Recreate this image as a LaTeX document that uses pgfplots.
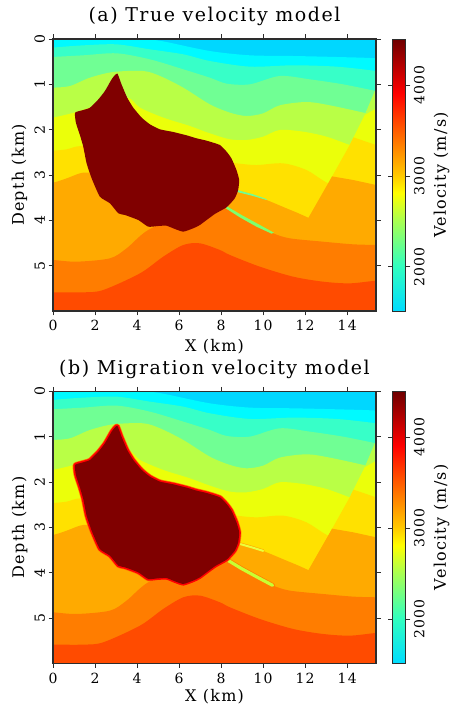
\documentclass[border=0pt]{standalone}
\usepackage{fontspec}
\setmainfont[LetterSpace=8]{DejaVu Serif}
\usepackage{pgfplots}
\pgfplotsset{compat=1.18}
\definecolor{c0}{RGB}{0,215,255}
\definecolor{c1}{RGB}{0,250,255}
\definecolor{c2}{RGB}{55,255,200}
\definecolor{c3}{RGB}{112,255,148}
\definecolor{c4}{RGB}{185,255,70}
\definecolor{c5}{RGB}{235,255,10}
\definecolor{c6}{RGB}{255,225,0}
\definecolor{c7}{RGB}{255,170,0}
\definecolor{c8}{RGB}{255,125,0}
\definecolor{c9}{RGB}{255,75,0}
\definecolor{salt}{RGB}{128,0,0}
\definecolor{axc}{RGB}{45,45,45}
\definecolor{sl}{RGB}{200,255,50}
\definecolor{su}{RGB}{235,255,60}
\definecolor{sa}{RGB}{125,255,110}
\newcommand{\saltcoords}{(3.07,0.765)(3.26,1.0)(3.53,1.294)(3.82,1.515)(4.22,1.735)(4.61,1.882)(5.09,1.993)(5.72,2.051)(6.36,2.125)(6.83,2.191)(7.31,2.243)(7.94,2.338)(8.26,2.485)(8.49,2.632)(8.73,2.89)(8.86,3.11)(8.81,3.331)(8.65,3.515)(8.26,3.713)(7.70,3.86)(6.99,4.103)(6.67,4.176)(6.20,4.25)(5.80,4.191)(5.40,4.118)(5.01,4.125)(4.53,4.14)(4.06,3.993)(3.42,3.882)(3.11,3.846)(2.71,3.625)(2.23,3.478)(1.84,3.074)(1.60,2.743)(1.44,2.375)(1.28,2.118)(1.09,1.846)(1.05,1.625)(1.44,1.566)(1.76,1.515)(2.16,1.331)(2.47,1.147)(2.79,0.89)(2.95,0.794)}
\newcommand{\lowerstreak}{(8.26,3.684)(8.97,3.882)(9.76,4.081)(10.51,4.272)(10.4,4.294)(9.68,4.14)(8.89,3.934)(8.22,3.735)}
\newcommand{\upperstreak}{(8.76,3.331)(9.52,3.426)(10.16,3.53)(10.16,3.55)(9.52,3.463)(8.76,3.375)}
\newcommand{\lay}[2]{\addplot[fill=#1,draw=none,smooth cycle,tension=0.5] coordinates {#2 (17.5,8)(-2.5,8)};}
\newcommand{\layers}{%
\addplot[fill=c0,draw=none] coordinates {(-1,-1)(16.5,-1)(16.5,7)(-1,7)} -- cycle;
\lay{c1}{(-1,-1)(1,-0.6)(3.5,-0.15)(4.61,0)(5.40,0.066)(7.46,0.265)(9.37,0.36)(11.43,0.375)(13.49,0.397)(15.37,0.426)(16.5,0.5)}
\lay{c2}{(-1,0.25)(0,0.19)(1.44,0.14)(3.03,0.118)(4.61,0.228)(6.20,0.338)(7.46,0.485)(9.37,0.61)(11.43,0.58)(13.49,0.61)(15.37,0.706)(16.5,0.8)}
\lay{c3}{(-1,0.43)(0,0.397)(1.44,0.36)(3.03,0.316)(4.61,0.449)(6.20,0.669)(7.46,0.853)(8.26,0.985)(9.37,1.0)(10.79,0.816)(12.22,0.89)(13.80,1.0)(15.37,1.147)(16.5,1.25)}
\lay{c4}{(-1,1.1)(0,1.074)(0.81,1.037)(1.76,0.853)(2.87,0.728)(4.29,0.706)(5.09,0.816)(6.20,1.074)(7.46,1.441)(8.42,1.625)(9.21,1.699)(10.0,1.64)(10.79,1.463)(12.06,1.39)(13.17,1.463)(14.91,1.64)(15.37,1.713)(16.5,1.85)}
\lay{c5}{(-1,1.82)(0,1.735)(1.05,1.618)(2.2,1.45)(3.53,1.294)(4.14,1.515)(5.25,1.735)(6.51,1.919)(7.46,2.081)(8.42,2.213)(9.21,2.228)(10.0,2.154)(10.79,2.007)(11.90,2.044)(13.01,2.154)(14.12,2.338)(15.37,2.52)(16.5,2.7)}
\lay{c6}{(-1,2.48)(0,2.463)(0.65,2.434)(1.36,2.36)(3,2.43)(5,2.55)(7,2.65)(8.73,2.743)(9.68,2.78)(10.95,2.743)(12.06,2.89)(13.09,3.184)(15.37,3.70)(16.5,4)}
\lay{c7}{(-1,3.25)(0,3.169)(0.65,3.074)(1.28,2.963)(1.68,2.949)(3,3.0)(5,3.15)(7,3.25)(8.81,3.346)(9.84,3.493)(11.11,3.735)(12.14,3.941)(15.37,4.65)(16.5,5)}
\addplot[fill=c4,draw=none] coordinates {(15.37,1.085)(14.83,1.676)(15.0,1.9)(15.5,1.9)(15.5,1.085)} -- cycle;
\addplot[fill=c5,draw=none] coordinates {(14.83,1.676)(15.5,1.5)(15.5,2.6)(14.3,2.6)(14.12,2.338)} -- cycle;
\addplot[fill=c6,draw=none] coordinates {(14.30,2.17)(15.37,2.338)(15.5,2.34)(15.5,3.4)(13.6,3.4)(13.2,3.1)(14.12,2.338)} -- cycle;
\addplot[fill=c7,draw=none] coordinates {(13.28,3.03)(14.28,3.11)(15.37,3.22)(15.5,3.23)(15.5,5)(12.0,5)(12.14,3.956)} -- cycle;
\lay{c8}{(-1,4.85)(0,4.875)(1.13,4.912)(2.71,4.838)(3.50,4.618)(4.53,4.213)(6.35,3.85)(8.26,3.713)(8.89,3.919)(9.68,4.103)(10.48,4.287)(11.27,4.397)(12.85,4.471)(14.28,4.529)(15.37,4.544)(16.5,4.56)}
\lay{c9}{(-1,5.59)(0,5.588)(1.44,5.588)(2.39,5.537)(4.14,5.169)(5.25,4.80)(6.20,4.544)(6.99,4.507)(7.94,4.654)(8.42,4.765)(9.84,5.022)(11.43,5.243)(12.85,5.353)(14.12,5.39)(15.37,5.331)(16.5,5.3)}
}
\pgfplotsset{
  velaxis/.style={
    anchor=south west, scale only axis, width=323pt, height=272pt,
    xmin=0, xmax=15.37, ymin=0, ymax=6, y dir=reverse,
    axis on top, axis line style={axc,line width=1.2pt},
    tick align=outside, major tick length=4.5pt, tick style={axc,line width=0.8pt},
    xtick={0,2,...,14}, ytick={0,1,...,5},
    /pgf/number format/assume math mode=true,
    tick label style={font=\fontsize{14}{14}\selectfont},
    label style={font=\fontsize{16}{16}\selectfont},
    x tick label style={yshift=-1.5pt},
    yticklabel style={rotate=90,anchor=south,yshift=0pt,xshift=0pt},
    xlabel={X (km)}, ylabel={Depth (km)},
    xlabel style={at={(0.5,0)},anchor=base,yshift=-41pt},
    ylabel style={at={(0,0.5)},anchor=base,rotate=0,yshift=29pt},
    title style={font=\fontsize{19}{19}\selectfont,at={(0.5,1)},anchor=base,yshift=11pt},
    colormap={vel}{rgb255(0)=(0,220,255) rgb255(5)=(50,255,190) rgb255(10)=(170,255,80) rgb255(13)=(255,255,0) rgb255(15)=(255,200,0) rgb255(20)=(255,90,0) rgb255(24)=(255,0,0) rgb255(30)=(110,0,0)},
    point meta min=1513, point meta max=4506,
    colorbar right,
    colorbar shift/.style={xshift=12pt},
    colorbar style={
      width=13pt, ytick={2000,3000,4000},
      axis line style={axc,line width=0.9pt},
      major tick length=4.5pt, tick align=outside, tick style={axc,line width=0.5pt},
      /pgf/number format/assume math mode=true,
      /pgf/number format/1000 sep={},
      yticklabel style={rotate=90,anchor=north,xshift=0pt,yshift=0pt},
      ylabel={Velocity (m/s)},
      ylabel style={font=\fontsize{16}{16}\selectfont,at={(1,0.5)},anchor=base,rotate=0,yshift=-40pt},
    },
  }
}
\begin{document}
\begin{tikzpicture}[x=1pt,y=1pt]
\path[use as bounding box] (0,0) rectangle (450,706);
\begin{axis}[velaxis,at={(53pt,395pt)},title={(a) True velocity model}]
\layers
\addplot[fill=sa,draw=none] coordinates {\lowerstreak} -- cycle;
\addplot[fill=c3,draw=none] coordinates {\upperstreak} -- cycle;
\addplot[fill=salt,draw=none,smooth cycle,tension=0.3] coordinates {\saltcoords};
\end{axis}
\begin{axis}[velaxis,at={(53pt,42.7pt)},title={(b) Migration velocity model},xlabel style={yshift=2.5pt}]
\layers
\addplot[draw=c8,line width=4.6pt,line cap=round,no marks] coordinates {(8.26,3.71)(8.97,3.91)(9.76,4.11)(10.45,4.28)};
\addplot[draw=sl,line width=3.2pt,line cap=round,no marks] coordinates {(8.26,3.71)(8.97,3.91)(9.76,4.11)(10.45,4.28)};
\addplot[draw=c7,line width=3.2pt,line cap=round,no marks] coordinates {(8.76,3.35)(9.52,3.45)(10.0,3.52)};
\addplot[draw=su,line width=2pt,line cap=round,no marks] coordinates {(8.76,3.35)(9.52,3.45)(10.0,3.52)};
\addplot[draw=c8,line width=4.6pt,line join=round,smooth cycle,tension=0.3,no marks] coordinates {\saltcoords};
\addplot[draw=red,line width=3.2pt,line join=round,smooth cycle,tension=0.3,no marks] coordinates {\saltcoords};
\addplot[fill=salt,draw=none,smooth cycle,tension=0.3,no marks] coordinates {\saltcoords};
\end{axis}
\end{tikzpicture}
\end{document}
